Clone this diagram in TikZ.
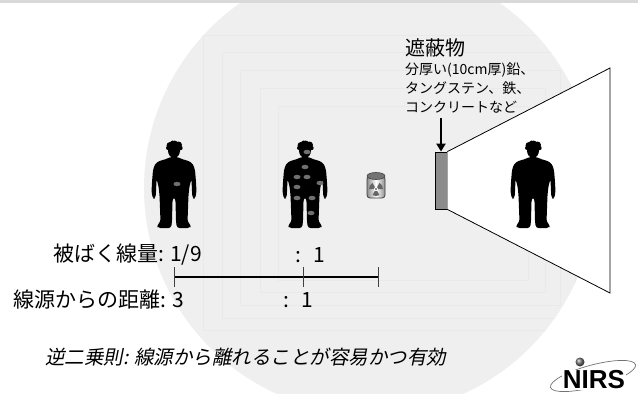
\documentclass[tikz,border=0pt]{standalone}
\usepackage{fontspec}
\setmainfont{Noto Sans CJK JP}
\newfontfamily\slantjp[FakeSlant=0.2]{Noto Sans CJK JP}
\newfontfamily\logofont{Liberation Sans}
\usetikzlibrary{positioning,arrows.meta}

\definecolor{circlegray}{HTML}{EFEFEF}
\definecolor{linegray}{HTML}{E9E9E9}
\definecolor{bandgray}{HTML}{D9D9D9}
\definecolor{spotgray}{HTML}{707070}
\definecolor{shieldgray}{HTML}{8C8C8C}

\tikzset{
  person/.pic={
    \fill[rounded corners=2.5pt] (-3.5,15) -- (-9,17.5) -- (-15,19) -- (-19,22) -- (-21,28)
      -- (-22,40) -- (-22.5,50) -- (-21,57) -- (-18.5,56) -- (-18,50) -- (-17.5,37)
      -- (-15.5,44) -- (-14.5,53) -- (-13.5,80) -- (-17,83) -- (-16,86) -- (-3,86) -- (-2,80)
      -- (-1.5,58) -- (0,55) -- (1.5,58) -- (2,80) -- (3,86) -- (16,86) -- (17,83)
      -- (13.5,80) -- (14.5,53) -- (15.5,44) -- (17.5,37) -- (18,50) -- (18.5,56) -- (21,57)
      -- (22.5,50) -- (22,40) -- (21,28) -- (19,22) -- (15,19) -- (9,17.5) -- (3.5,15) -- cycle;
    \fill (0,8.5) ellipse (6 and 7.5);
    \fill (-4,3.5) circle (3.5) (0.5,2) circle (3.5) (4.5,3) circle (3.5)
      (6.5,6) circle (2.2) (-6,6) circle (2) (-1.5,0.8) circle (2.2);
    \fill (-3,12) rectangle (3,17);
  },
  spot/.style={fill=spotgray},
  label/.style={font=\fontsize{21}{24}\selectfont, inner sep=0pt},
  shield/.style={draw, fill=shieldgray, line width=0.8pt, minimum width=12pt,
    minimum height=57pt, inner sep=0pt},
  tick/.style={draw=black!75, line width=1pt},
  bar/.style={line width=2pt}
}

\begin{document}
\begin{tikzpicture}[x=1pt, y=-1pt, node distance=4pt]
  \useasboundingbox (0,0) rectangle (638,394);
  \fill[circlegray] (370,188) circle (226);
  \begin{scope}
    \clip (370,188) circle (226);
    \draw[linegray, line width=0.6pt] (203,35) rectangle (590,330)
      (222,52) rectangle (575,318) (240,70) rectangle (560,305)
      (260,88) rectangle (545,292) (278,106) rectangle (528,280);
  \end{scope}
  \fill[bandgray] (0,0) rectangle (638,3);

  \pic at (174,142) {person};
  \fill[spot] (177,184) ellipse (3.5 and 2.2);

  \pic at (305,142) {person};
  \foreach \dx/\dy in {2/10, 0/25, -8/35, 2/35, 15/41, -8/45, -8/56, 7/56, 6/71}
    \fill[spot] (305+\dx,142+\dy) ellipse (3.5 and 2.2);

  \begin{scope}[shift={(376,186)}]
    \shade[left color=black!45, right color=black!45, middle color=white,
      rounded corners=3pt] (-9,-10) rectangle (9,12);
    \draw[black!75, line width=0.8pt, rounded corners=3pt] (-9,-10) rectangle (9,12);
    \foreach \a in {90,210,330}
      \fill[black!60] (0,3) -- ++(\a-30:7) arc[start angle=\a-30, end angle=\a+30, radius=7] -- cycle;
    \fill[white] (0,3) circle (2);
    \fill[black!60] (0,3) circle (1.2);
    \filldraw[fill=black!55, draw=black!75, line width=0.6pt] (0,-10) ellipse (9 and 3.5);
  \end{scope}

  \node[shield] (shield) at (441,180.5) {};
  \coordinate (beamtop) at (610,68);
  \coordinate (beambot) at (610,293);
  \filldraw[fill=white, line width=0.8pt] (shield.north east) -- (beamtop) -- (beambot) -- (shield.south east);
  \pic at (533,142) {person};

  \node[label, anchor=west, font=\fontsize{20}{22}\selectfont] (shieldtitle) at (405,48) {遮蔽物};
  \node[inner sep=0pt, align=left, font=\fontsize{14}{19}\selectfont,
    below=5pt of shieldtitle.south west, anchor=north west] (shieldtext)
    {分厚い(10cm厚)鉛、\\タングステン、鉄、\\コンクリートなど};
  \draw[line width=2pt, -{Triangle[width=9pt, length=8pt]}, shorten <=5pt]
    (shieldtext.south -| shield.north) -- (shield.north);

  \node[label, anchor=west] (doselabel) at (53,255) {被ばく線量: 1/9};
  \node[label, anchor=west] (doseone) at (295,255) {:\hspace{0.6em}1};
  \node[label, anchor=west] (distlabel) at (13,300) {線源からの距離: 3};
  \node[label, anchor=west] (distone) at (283,300) {:\hspace{0.6em}1};

  \coordinate (barL) at (174,277);
  \coordinate (barM) at (303,277);
  \coordinate (barR) at (378,277);
  \draw[bar] (barL) -- (barR);
  \foreach \p in {barL,barM,barR}
    \draw[tick] (\p) ++(0,-10) -- ++(0,20);

  \node[label, anchor=west, font=\slantjp\fontsize{19.5}{22}\selectfont] (lawtext) at (45,357)
    {逆二乗則: 線源から離れることが容易かつ有効};

  \draw[black!55, line width=0.7pt, rotate around={15:(593,376)}] (593,376) ellipse (44 and 11);
  \node[fill=white, inner sep=0.5pt, font=\logofont\bfseries\fontsize{26}{26}\selectfont] (logo) at (594,380) {NIRS};
  \shade[ball color=black!55] (580,362) circle (4.5);
\end{tikzpicture}
\end{document}
